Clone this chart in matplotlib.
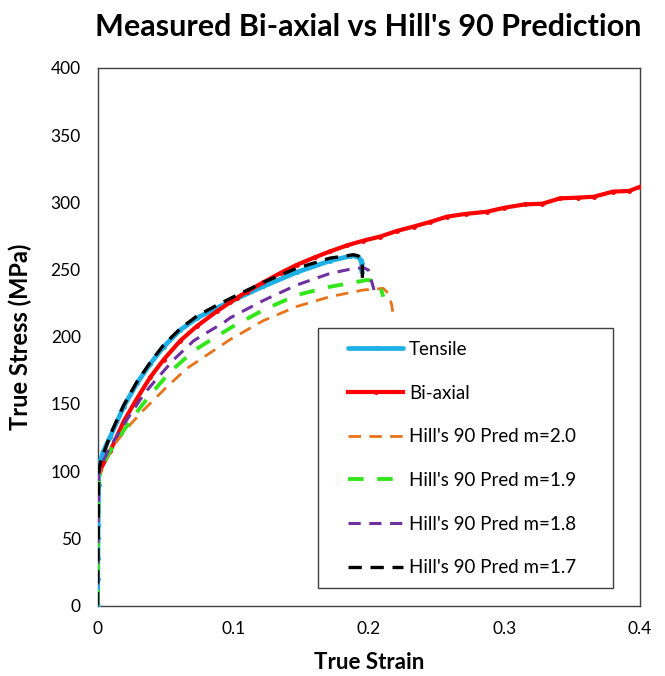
import matplotlib
matplotlib.use("Agg")
import matplotlib.pyplot as plt
from matplotlib.patches import Rectangle

plt.rcParams['font.family'] = ['Lato', 'DejaVu Sans']

# ---------------- data ----------------
tensile_strain = [0, 0.0002, 0.0003, 0.0004, 0.0005, 0.0006, 0.0007, 0.0008, 0.0009, 0.001,
                  0.004, 0.0094, 0.0193, 0.0291, 0.039, 0.0488, 0.061, 0.0734, 0.0881,
                  0.1029, 0.1223, 0.1469, 0.1714, 0.1862, 0.1905, 0.1923, 0.1940,
                  0.1948, 0.1948]
tensile_stress = [0, 20, 35, 50, 60, 70, 80, 90, 98, 103,
                  114, 125.6, 148, 165.4, 180, 192.6, 205, 214, 221.5,
                  228.5, 237.5, 248, 256.5, 260, 260.2, 259.5, 257,
                  254.6, 248.4]

biaxial_strain = [0.0, 0.002, 0.0094, 0.0193, 0.0291, 0.039, 0.0488, 0.061, 0.0734, 0.0881,
                  0.0977, 0.1029, 0.110, 0.1223, 0.135, 0.1469, 0.160, 0.1714, 0.184, 0.196,
                  0.2083, 0.2206, 0.233, 0.2455, 0.2578, 0.272, 0.287, 0.300, 0.315, 0.328,
                  0.341, 0.354, 0.366, 0.380, 0.392, 0.400]
biaxial_stress = [98, 101, 115, 137, 154, 170, 183, 197, 208, 219,
                  225.5, 229, 233.5, 240.5, 247.5, 253.5, 259, 263.5, 268, 271.5,
                  274.5, 278.7, 282, 285.5, 289.4, 291.5, 293, 296, 298.5, 299,
                  303, 303.5, 304.2, 308, 308.5, 311.6]

m20_strain = [0, 0.0008, 0.003, 0.0094, 0.0217, 0.034, 0.0512, 0.066, 0.0807, 0.0979,
              0.1223, 0.1469, 0.1714, 0.196, 0.2107, 0.2144, 0.217, 0.2176]
m20_stress = [0, 96, 100, 115.7, 131.9, 145.5, 162.8, 176.5, 186.4, 198,
              212, 222.5, 229.8, 234.8, 236, 232.3, 223.6, 218.6]

m19_strain = [0, 0.0008, 0.0068, 0.0144, 0.0267, 0.039, 0.0537, 0.0709, 0.0857, 0.1004,
              0.1223, 0.1469, 0.1714, 0.1985, 0.203, 0.2078, 0.2107]
m19_stress = [0, 96, 110.7, 123, 141, 157, 174, 189.5, 199, 208,
              219.9, 231, 237.2, 242.2, 241.8, 239.5, 229.8]

m18_strain = [0, 0.0008, 0.0046, 0.0092, 0.0215, 0.0338, 0.0414, 0.0562, 0.0709, 0.0805,
              0.093, 0.0977, 0.1223, 0.1469, 0.1714, 0.185, 0.196, 0.1997, 0.2022, 0.2039]
m18_stress = [0, 98, 108.3, 118, 138, 156.7, 166, 183, 197, 203,
              210.5, 214, 227, 238.5, 247.1, 250, 251.4, 249.7, 241, 234.8]

m17_strain = [0, 0.0009, 0.002, 0.0094, 0.0193, 0.0291, 0.039, 0.0488, 0.061, 0.0734,
              0.0881, 0.1029, 0.1223, 0.1469, 0.1714, 0.1886, 0.192, 0.1945, 0.1953, 0.1953]
m17_stress = [0, 100, 106, 127, 149, 166.5, 181, 194, 206, 215.5,
              223.5, 231, 240.5, 251, 258.5, 261, 260.2, 258.4, 255, 243.5]

labels = ["Tensile", "Bi-axial", "Hill's 90 Pred m=2.0", "Hill's 90 Pred m=1.9",
          "Hill's 90 Pred m=1.8", "Hill's 90 Pred m=1.7"]
x_ticks = [0, 0.1, 0.2, 0.3, 0.4]
x_ticklabels = ["0", "0.1", "0.2", "0.3", "0.4"]
y_ticks = [0, 50, 100, 150, 200, 250, 300, 350, 400]

# ---------------- figure ----------------
W, H = 665, 676
fig = plt.figure(figsize=(W / 100, H / 100), dpi=100)
ax = fig.add_axes([97.5 / W, 1 - 605.5 / H, (640 - 97.5) / W, (605.5 - 68) / H])

ax.plot(tensile_strain, tensile_stress, color='#1CB0E6', lw=3.4, marker='o', ms=2.5,
        solid_capstyle='round', solid_joinstyle='round', label=labels[0], zorder=3)
ax.plot(biaxial_strain, biaxial_stress, color='#FF0000', lw=3.0, marker='o', ms=2.5,
        solid_joinstyle='round', label=labels[1], zorder=4)
ax.plot(m20_strain, m20_stress, color='#E8731A', lw=2.0, dashes=(4.5, 3.0), label=labels[2], zorder=5)
ax.plot(m19_strain, m19_stress, color='#33E61A', lw=2.8, dashes=(4.0, 3.5), label=labels[3], zorder=5)
ax.plot(m18_strain, m18_stress, color='#7030A0', lw=2.2, dashes=(4.0, 2.8), label=labels[4], zorder=5)
ax.plot(m17_strain, m17_stress, color='#000000', lw=2.4, dashes=(4.0, 2.6), label=labels[5], zorder=6)

ax.set_xlim(0, 0.4)
ax.set_ylim(0, 400)
ax.set_xticks(x_ticks)
ax.set_xticklabels(x_ticklabels)
ax.set_yticks(y_ticks)
ax.tick_params(axis='both', length=0, labelsize=12.5)
ax.tick_params(axis='y', pad=12)
ax.tick_params(axis='x', pad=11)
for s in ax.spines.values():
    s.set_color('#404040')
    s.set_linewidth(1.0)

ax.set_xlabel("True Strain", fontsize=16, fontweight='bold', labelpad=11)
ax.set_ylabel("True Stress (MPa)", fontsize=17, fontweight='bold', labelpad=13)
fig.text(368 / W, 1 - 27 / H, "Measured Bi-axial vs Hill's 90 Prediction",
         ha='center', va='center', fontsize=22, fontweight='bold')

# legend box (fixed-size frame as in the reference)
box = Rectangle((318 / W, 1 - 588 / H), 295 / W, 260 / H, transform=fig.transFigure,
                facecolor='white', edgecolor='#404040', linewidth=1.0, zorder=10)
ax.add_patch(box)
box.set_clip_on(False)

leg = ax.legend(loc='upper left',
                bbox_to_anchor=(348 / W, 1 - 341 / H), bbox_transform=fig.transFigure,
                frameon=False, fontsize=13.5, handlelength=2.95,
                handletextpad=0.3, labelspacing=1.42, borderpad=0.0, borderaxespad=0)
leg.set_zorder(11)

fig.savefig("out.png", dpi=100)
